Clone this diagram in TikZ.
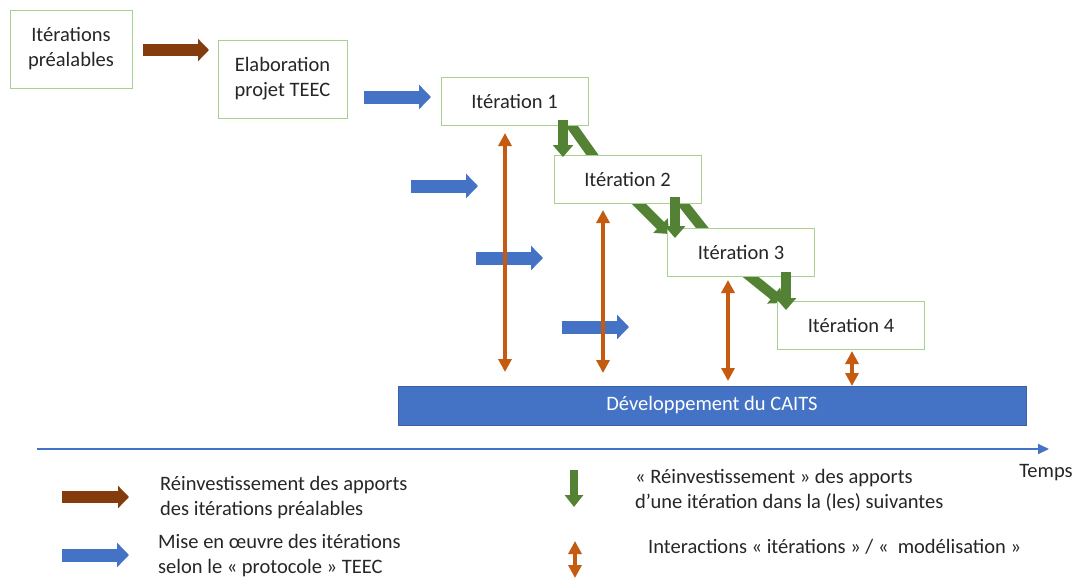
\documentclass[tikz,border=0pt]{standalone}
\usepackage{fontspec}
\setmainfont{Carlito}
\usetikzlibrary{arrows.meta}
\definecolor{boxgreen}{HTML}{A9D18E}
\definecolor{arrgreen}{HTML}{548235}
\definecolor{arrorange}{HTML}{C55A11}
\definecolor{arrblue}{HTML}{4472C4}
\definecolor{arrbrown}{HTML}{843C0C}
\definecolor{txt}{HTML}{262626}
\begin{document}
\begin{tikzpicture}[x=1pt,y=1pt,
  txtfont/.style={font=\fontsize{20.5}{25}\selectfont, text=txt},
  box/.style={draw=boxgreen, line width=1pt, fill=white, align=center, inner sep=0pt, txtfont},
  iterbox/.style={box, minimum width=147pt, minimum height=48pt},
  fatbrown/.style={arrbrown, line width=12pt, -{Triangle[width=22pt,length=11pt]}},
  fatblue/.style={arrblue, line width=13pt, -{Triangle[width=24pt,length=12pt]}},
  fatgreen/.style={arrgreen, line width=10pt, -{Triangle[width=20pt,length=12pt]}},
  band/.style={arrgreen, line width=10pt},
  orangedbl/.style={arrorange, line width=4pt, {Triangle[width=13pt,length=13pt]}-{Triangle[width=13pt,length=13pt]}},
  legend/.style={anchor=west, align=left, inner sep=0pt, txtfont}]
\useasboundingbox (0,0) rectangle (1077,-579);

% green diagonal bands and diagonal arrows (under the boxes)
\coordinate (b12a) at (564,-115); \coordinate (b12b) at (596,-160);
\draw[band] (b12a) -- (b12b);
\coordinate (b23a) at (677,-196); \coordinate (b23b) at (707,-234);
\draw[band] (b23a) -- (b23b);
\coordinate (d23a) at (633,-198); \coordinate (d23b) at (669,-234);
\draw[fatgreen] (d23a) -- (d23b);
\coordinate (d34a) at (742,-270); \coordinate (d34b) at (783,-303);
\draw[fatgreen] (d34a) -- (d34b);

% boxes
\node[box, minimum width=122pt, minimum height=78pt] (pre) at (71,-49) {Itérations\\préalables};
\node[box, minimum width=129pt, minimum height=78pt] (elab) at (282.5,-79) {Elaboration\\projet TEEC};
\node[iterbox] (it1) at (514.5,-101) {Itération 1};
\node[iterbox] (it2) at (627.5,-179) {Itération 2};
\node[iterbox] (it3) at (741,-252.5) {Itération 3};
\node[iterbox] (it4) at (851,-325.5) {Itération 4};

% development bar
\node[fill=arrblue, draw=arrblue!85!black, line width=0.6pt, minimum width=628pt, minimum height=39pt, inner sep=0pt,
      font=\fontsize{20.5}{24}\selectfont, text=white] (bar) at (712,-405.5) {Développement du CAITS};

% green vertical arrows (over the boxes)
\coordinate (v12a) at (563,-120); \coordinate (v12b) at (563,-157);
\draw[fatgreen] (v12a) -- (v12b);
\coordinate (v23a) at (675,-197); \coordinate (v23b) at (675,-238);
\draw[fatgreen] (v23a) -- (v23b);
\coordinate (v34a) at (786,-272); \coordinate (v34b) at (786,-310);
\draw[fatgreen] (v34a) -- (v34b);

% brown and blue block arrows
\coordinate (br0) at (143,-50); \coordinate (br1) at (209,-50);
\draw[fatbrown] (br0) -- (br1);
\coordinate (bl0a) at (364,-97); \coordinate (bl0b) at (431,-97);
\draw[fatblue] (bl0a) -- (bl0b);
\coordinate (bl1a) at (411,-186); \coordinate (bl1b) at (478,-186);
\draw[fatblue] (bl1a) -- (bl1b);
\coordinate (bl2a) at (476,-258); \coordinate (bl2b) at (543,-258);
\draw[fatblue] (bl2a) -- (bl2b);
\coordinate (bl3a) at (562,-327); \coordinate (bl3b) at (629,-327);
\draw[fatblue] (bl3a) -- (bl3b);

% orange interaction arrows
\coordinate (o1a) at (505,-133); \coordinate (o1b) at (505,-372);
\draw[orangedbl] (o1a) -- (o1b);
\coordinate (o2a) at (603,-210); \coordinate (o2b) at (603,-373);
\draw[orangedbl] (o2a) -- (o2b);
\coordinate (o3a) at (728,-280); \coordinate (o3b) at (728,-381);
\draw[orangedbl] (o3a) -- (o3b);
\coordinate (o4a) at (852,-351); \coordinate (o4b) at (852,-386);
\draw[orangedbl] (o4a) -- (o4b);

% time line
\coordinate (t0) at (37,-449); \coordinate (t1) at (1049,-449);
\draw[arrblue, line width=2pt, -{Triangle[width=10pt,length=11pt]}] (t0) -- (t1);
\node[txtfont, inner sep=0pt] (temps) at (1046,-473) {Temps};

% legend
\coordinate (lb0) at (62,-497); \coordinate (lb1) at (129,-497);
\draw[fatbrown] (lb0) -- (lb1);
\node[legend] (l1) at (160,-497.5) {Réinvestissement des apports\\des itérations préalables};
\coordinate (lbl0) at (62,-555); \coordinate (lbl1) at (129,-555);
\draw[fatblue] (lbl0) -- (lbl1);
\node[legend] (l2) at (158,-555.5) {Mise en œuvre des itérations\\selon le « protocole » TEEC};
\coordinate (lg0) at (574,-470); \coordinate (lg1) at (574,-507);
\draw[arrgreen, line width=8pt, -{Triangle[width=18pt,length=12pt]}] (lg0) -- (lg1);
\node[legend] (l3) at (635,-490) {« Réinvestissement » des apports\\d’une itération dans la (les) suivantes};
\coordinate (lo0) at (575,-541); \coordinate (lo1) at (575,-578);
\draw[orangedbl] (lo0) -- (lo1);
\node[legend] (l4) at (648,-547) {Interactions « itérations » / «\ \ modélisation »};
\end{tikzpicture}
\end{document}
